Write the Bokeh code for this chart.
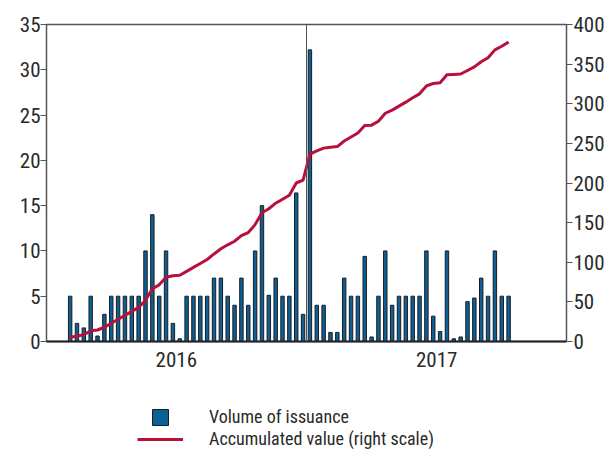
from bokeh.plotting import figure
from bokeh.layouts import column
from bokeh.models import (Range1d, LinearAxis, FixedTicker, Span, Legend,
                          LegendItem, ColumnDataSource)
from bokeh.embed import file_html
from bokeh.resources import INLINE

# ---- data ----
volume = [5, 2, 1.5, 5, 0.6, 3, 5, 5, 5, 5,
          5, 10, 14, 5, 10, 2, 0.3, 5, 5, 5,
          5, 7, 7, 5, 4, 7, 4, 10, 15, 5.1,
          7, 5, 5, 16.4, 3, 32.2, 4, 4, 1, 1,
          7, 5, 5, 9.4, 0.5, 5, 10, 4, 5, 5,
          5, 5, 10, 2.8, 1.1, 10, 0.3, 0.5, 4.4, 4.8,
          7, 5, 10, 5, 5]
accumulated = [5, 7, 8.5, 13.5, 14.5, 18, 23, 28, 33, 38,
               43, 52, 66.5, 71.5, 81, 83, 83.5, 88.5, 93.5, 98.5,
               103.5, 110.5, 117, 122, 126.5, 133.5, 137.5, 147.5, 162.5, 167.5,
               174.5, 179.5, 184.5, 200, 203.5, 236.5, 240.5, 244, 245, 246,
               253, 258, 263, 272.5, 273, 278, 288, 292, 297, 302,
               307.5, 312.5, 322.5, 325.5, 326.5, 336.5, 337, 337.5, 342, 346.5,
               353, 358, 368, 372.5, 378]
period = list(range(len(volume)))
year_labels = ["2016", "2017"]
year_centres = [15.5, 53.5]
year_start_2017 = 34.5
x_start, x_end = -3.45, 72.45
left_ticks = [0, 5, 10, 15, 20, 25, 30, 35]
right_ticks = [0, 50, 100, 150, 200, 250, 300, 350, 400]
legend_labels = ["Volume of issuance", "Accumulated value (right scale)"]

FONT = "Roboto Condensed"
BLUE = "#0b6097"
RED = "#b8103d"
TXT = "#2a2a2a"
EDGE = "#1c1c1c"

src = ColumnDataSource(dict(x=period, vol=volume, acc=accumulated))

p = figure(frame_width=520, frame_height=317, output_backend="svg",
           toolbar_location=None,
           x_range=Range1d(x_start, x_end), y_range=Range1d(0, 35),
           min_border_left=46, min_border_right=34, min_border_top=24,
           min_border_bottom=49)
p.extra_y_ranges = {"acc": Range1d(0, 400)}
p.xgrid.visible = False
p.ygrid.visible = False
p.outline_line_color = "#555555"
p.outline_line_width = 1.5
p.background_fill_color = "white"
p.border_fill_color = "white"

bar_style = dict(width=0.5, fill_color=BLUE, line_color=EDGE, line_width=1)
line_style = dict(line_color=RED, line_width=3)

bars = p.vbar(x="x", top="vol", source=src, **bar_style)
line = p.line(x="x", y="acc", source=src, y_range_name="acc", **line_style)

p.add_layout(Span(location=year_start_2017, dimension="height",
                  line_color="#555555", line_width=1))

# axes
xa = p.xaxis[0]
xa.ticker = FixedTicker(ticks=year_centres)
xa.major_label_overrides = {c: l for c, l in zip(year_centres, year_labels)}
xa.major_tick_in = 0
xa.major_tick_out = 0
xa.minor_tick_line_color = None
xa.axis_line_color = "#222222"
xa.axis_line_width = 2
xa.major_label_standoff = 10

ya = p.yaxis[0]
ya.ticker = FixedTicker(ticks=left_ticks)
ya.major_tick_in = 0
ya.major_tick_out = 6
ya.minor_tick_line_color = None
ya.axis_line_color = "#555555"
ya.major_tick_line_color = "#555555"
ya.major_label_standoff = 0

ra = LinearAxis(y_range_name="acc", ticker=FixedTicker(ticks=right_ticks))
ra.major_tick_in = 0
ra.major_tick_out = 6
ra.minor_tick_line_color = None
ra.axis_line_color = "#555555"
ra.major_tick_line_color = "#555555"
ra.major_label_standoff = 1
p.add_layout(ra, "right")

for ax in (xa, ya, ra):
    ax.major_label_text_font = FONT
    ax.major_label_text_font_size = "21px"
    ax.major_label_text_color = TXT

# ---- legend panel below the chart (its frame is aligned with the chart's) ----
lg = figure(width=600, height=59, output_backend="svg", toolbar_location=None,
            x_range=Range1d(1000, 1001), y_range=Range1d(1000, 1001),
            x_axis_location=None, y_axis_location=None, min_border=0)
lg.grid.visible = False
lg.outline_line_color = None
lg.border_fill_color = "white"
# key renderers share the chart data but lie outside this panel's view
key_bar = lg.vbar(x="x", top="vol", source=src, **bar_style)
key_line = lg.line(x="x", y="acc", source=src, **line_style)

leg1 = Legend(items=[LegendItem(label=legend_labels[0], renderers=[key_bar])],
              location=(104, 22), glyph_width=20, glyph_height=20,
              label_height=20, label_standoff=39)
leg2 = Legend(items=[LegendItem(label=legend_labels[1], renderers=[key_line])],
              location=(91, 0), glyph_width=46, glyph_height=20, label_height=20,
              label_standoff=26)
for L in (leg1, leg2):
    L.border_line_color = None
    L.background_fill_alpha = 0
    L.padding = 0
    L.margin = 0
    L.spacing = 0
    L.label_text_font = FONT
    L.label_text_font_size = "18px"
    L.label_text_color = TXT
    lg.add_layout(L)

layout = column(p, lg, spacing=0)
open("out.html", "w").write(file_html(layout, INLINE))
